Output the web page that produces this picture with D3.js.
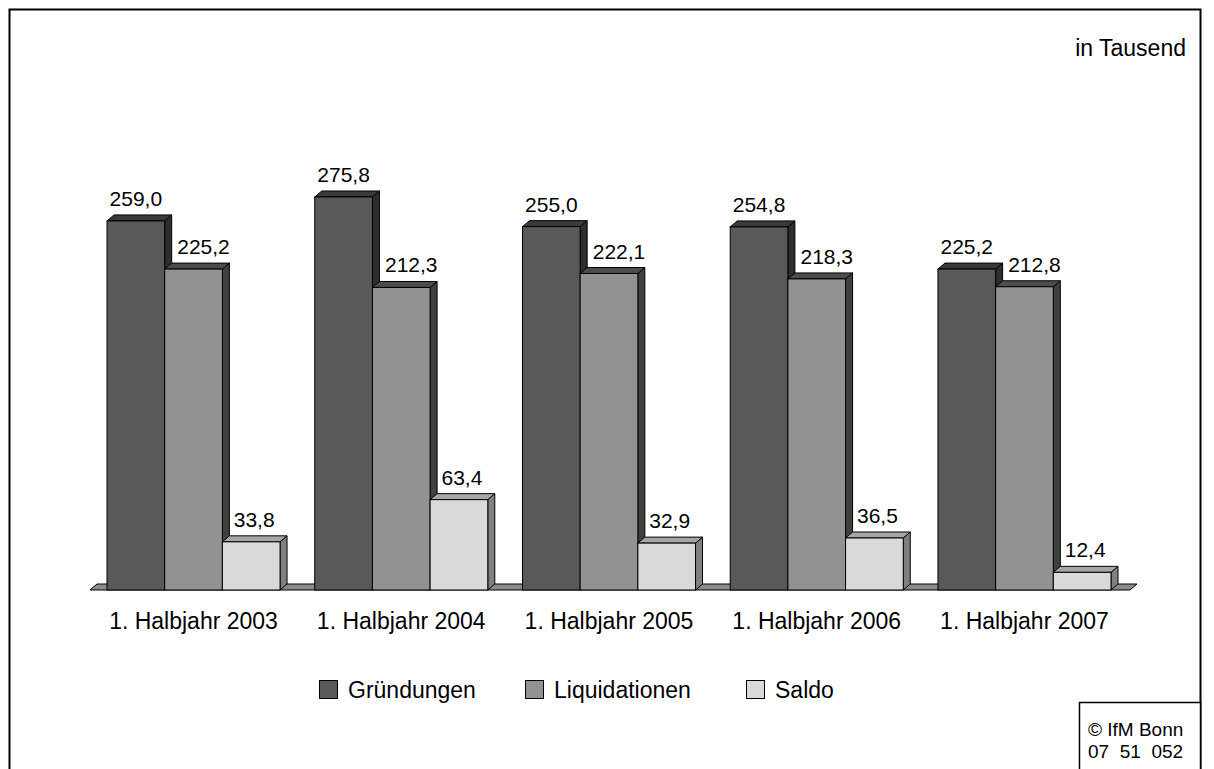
<!DOCTYPE html>
<html><head><meta charset="utf-8">
<script src="https://cdn.jsdelivr.net/npm/d3@7"></script>
<style>body{margin:0;background:#fff}svg{display:block;font-family:Arial,"Liberation Sans",sans-serif}</style>
</head><body>
<svg id="c" width="1214" height="769"></svg>
<script>
const categories = ["1. Halbjahr 2003","1. Halbjahr 2004","1. Halbjahr 2005","1. Halbjahr 2006","1. Halbjahr 2007"];
const seriesNames = ["Gründungen","Liquidationen","Saldo"];
const gruendungen = [259.0, 275.8, 255.0, 254.8, 225.2];
const liquidationen = [225.2, 212.3, 222.1, 218.3, 212.8];
const saldo = [33.8, 63.4, 32.9, 36.5, 12.4];
const valueLabels = [["259,0","275,8","255,0","254,8","225,2"],["225,2","212,3","222,1","218,3","212,8"],["33,8","63,4","32,9","36,5","12,4"]];
const seriesValues = [gruendungen, liquidationen, saldo];

const colors = [
  {front:"#595959", top:"#3a3a3a", side:"#2e2e2e"},
  {front:"#929292", top:"#4d4d4d", side:"#404040"},
  {front:"#d9d9d9", top:"#a6a6a6", side:"#808080"}
];
const labelOffset = [0, 10, 3];
const dx = 7, dy = 6;
const FONT = 'Arial,"Liberation Sans",sans-serif';

const svg = d3.select("#c");
svg.append("rect").attr("x",9.5).attr("y",9.5).attr("width",1191).attr("height",800)
  .attr("fill","none").attr("stroke","#000").attr("stroke-width",2);

const y = d3.scaleLinear().domain([0,300]).range([590,162.5]);
const x0 = d3.scaleBand().domain(categories).range([107,1111]).paddingInner(0.167).paddingOuter(0);
const x1 = d3.scaleBand().domain(seriesNames).range([0,x0.bandwidth()]);

const fl = 90, fr = 1130, fy = y(0);
svg.append("path")
  .attr("d",`M${fl},${fy}L${fr},${fy}L${fr+dx},${fy-dy}L${fl+dx},${fy-dy}Z`)
  .attr("fill","#8c8c8c").attr("stroke","#000").attr("stroke-width",1);

const g = svg.append("g");
categories.forEach((cat,ci)=>{
  seriesNames.forEach((s,si)=>{
    const v = seriesValues[si][ci];
    const xl = x0(cat)+x1(s), w = x1.bandwidth(), yt = y(v), yb = y(0);
    const c = colors[si];
    g.append("path").attr("d",`M${xl+w},${yt}L${xl+w+dx},${yt-dy}L${xl+w+dx},${yb-dy}L${xl+w},${yb}Z`)
      .attr("fill",c.side).attr("stroke","#000").attr("stroke-width",1).attr("stroke-linejoin","round");
    g.append("path").attr("d",`M${xl},${yt}L${xl+dx},${yt-dy}L${xl+w+dx},${yt-dy}L${xl+w},${yt}Z`)
      .attr("fill",c.top).attr("stroke","#000").attr("stroke-width",1).attr("stroke-linejoin","round");
    g.append("rect").attr("x",xl).attr("y",yt).attr("width",w).attr("height",yb-yt)
      .attr("fill",c.front).attr("stroke","#000").attr("stroke-width",1);
    g.append("text").attr("x",xl+w/2+labelOffset[si]).attr("y",yt-15)
      .attr("text-anchor","middle").attr("font-size",21).attr("fill","#000").text(valueLabels[si][ci]);
  });
});

const xa = d3.axisBottom(x0).tickSize(0).tickPadding(0);
const ax = svg.append("g").attr("transform",`translate(0,${y(0)})`).call(xa);
ax.select(".domain").remove();
ax.selectAll("text").attr("font-size",23).attr("font-family",FONT)
  .attr("fill","#000").attr("dy",0).attr("y",39);

svg.append("text").attr("x",1186).attr("y",56).attr("text-anchor","end").attr("font-size",23).text("in Tausend");

const legX = [319, 525, 746];
seriesNames.forEach((s,i)=>{
  svg.append("rect").attr("x",legX[i]+0.5).attr("y",680.5).attr("width",18).attr("height",18)
    .attr("fill",colors[i].front).attr("stroke","#000").attr("stroke-width",1);
  svg.append("text").attr("x",legX[i]+29).attr("y",698).attr("font-size",23).text(s);
});

svg.append("rect").attr("x",1079.5).attr("y",702.5).attr("width",121).attr("height",90)
  .attr("fill","#fff").attr("stroke","#000").attr("stroke-width",1.5);
svg.append("text").attr("x",1088).attr("y",736).attr("font-size",19).text("© IfM Bonn");
svg.append("text").attr("x",1088).attr("y",758).attr("font-size",19).attr("xml:space","preserve").text("07  51  052");
</script>
</body></html>
